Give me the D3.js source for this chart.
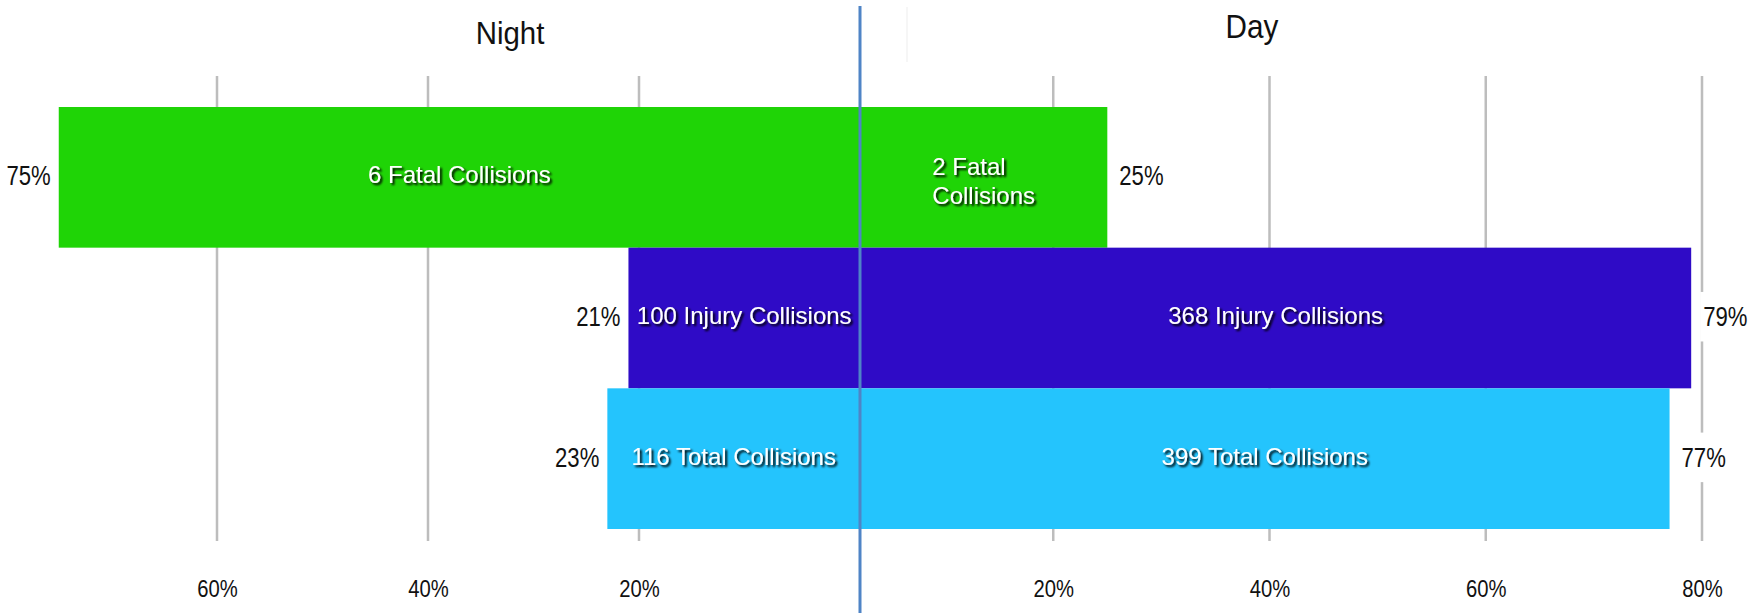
<!DOCTYPE html>
<html>
<head>
<meta charset="utf-8">
<script src="https://cdn.jsdelivr.net/npm/d3@7"></script>
<style>
  html, body { margin: 0; padding: 0; background: #fff; }
  svg { display: block; font-family: "Liberation Sans", Arial, sans-serif; }
</style>
</head>
<body>
<svg id="chart" width="1758" height="613"></svg>
<script>
// ---- data ----
const categories = ["Fatal", "Injury", "Total"];
const nightPct = [75, 21, 23];
const dayPct = [25, 79, 77];
const nightLabels = [["6 Fatal Collisions"], ["100 Injury Collisions"], ["116 Total Collisions"]];
const dayLabels = [["2 Fatal", "Collisions"], ["368 Injury Collisions"], ["399 Total Collisions"]];
const nightTicks = [60, 40, 20];
const dayTicks = [20, 40, 60, 80];
const titles = ["Night", "Day"];
const barColors = ["#1fd406", "#2f0bc6", "#24c4fd"];

// ---- layout ----
const W = 1758, H = 613;
const midX = 860;
const svg = d3.select("#chart");

const defs = svg.append("defs");
const f = defs.append("filter").attr("id", "shadow")
  .attr("x", "-10%").attr("y", "-30%").attr("width", "130%").attr("height", "170%");
f.append("feDropShadow").attr("dx", 2).attr("dy", 2)
  .attr("stdDeviation", 0.9).attr("flood-color", "#000").attr("flood-opacity", 1);

const y = d3.scaleBand().domain(categories).range([107, 529]).padding(0);
const xNight = d3.scaleLinear().domain([0, 80]).range([850, 6]);
const xDay = d3.scaleLinear().domain([0, 80]).range([837, 1702]);

const gridTop = 76, gridBottom = 541;

// gridlines
const grid = svg.append("g");
grid.selectAll("line.n").data(nightTicks).join("line")
  .attr("x1", d => xNight(d)).attr("x2", d => xNight(d))
  .attr("y1", gridTop).attr("y2", gridBottom)
  .attr("stroke", "#bdbdbd").attr("stroke-width", 2.5);
grid.selectAll("line.d").data(dayTicks).join("line")
  .attr("x1", d => xDay(d)).attr("x2", d => xDay(d))
  .attr("y1", gridTop).attr("y2", gridBottom)
  .attr("stroke", "#bdbdbd").attr("stroke-width", 2.5);

// axes (tick labels only)
function styleAxis(g) {
  g.select(".domain").remove();
  g.selectAll(".tick line").remove();
  g.selectAll(".tick text")
    .attr("font-size", 23).attr("fill", "#111")
    .attr("font-family", "Liberation Sans, Arial, sans-serif")
    .attr("y", 0).attr("dy", 0)
    .attr("transform", "scale(0.88,1)");
}
svg.append("g").attr("transform", `translate(0,597)`)
  .call(d3.axisBottom(xNight).tickValues(nightTicks).tickFormat(d => d + "%").tickSize(0))
  .call(styleAxis);
svg.append("g").attr("transform", `translate(0,597)`)
  .call(d3.axisBottom(xDay).tickValues(dayTicks).tickFormat(d => d + "%").tickSize(0))
  .call(styleAxis);

// bars
const rows = categories.map((c, i) => ({
  cat: c, night: nightPct[i], day: dayPct[i],
  nLab: nightLabels[i], dLab: dayLabels[i], color: barColors[i]
}));

svg.append("g").selectAll("rect.night").data(rows).join("rect")
  .attr("x", d => xNight(d.night))
  .attr("y", d => y(d.cat))
  .attr("width", d => midX - xNight(d.night))
  .attr("height", y.bandwidth())
  .attr("fill", d => d.color);
svg.append("g").selectAll("rect.day").data(rows).join("rect")
  .attr("x", midX)
  .attr("y", d => y(d.cat))
  .attr("width", d => xDay(d.day) - midX)
  .attr("height", y.bandwidth())
  .attr("fill", d => d.color);

// centre divider
svg.append("line")
  .attr("x1", midX).attr("x2", midX).attr("y1", 6).attr("y2", H)
  .attr("stroke", "#4f84c6").attr("stroke-width", 3);

// faint artefact line near top
svg.append("line")
  .attr("x1", 907).attr("x2", 907).attr("y1", 7).attr("y2", 62)
  .attr("stroke", "#f3f3f3").attr("stroke-width", 1.5);

// inner labels
function innerLabel(x0, x1, cy, lines, leftAlign) {
  const g = svg.append("g").attr("filter", "url(#shadow)");
  const t = g.append("text")
    .attr("fill", "#fff").attr("font-size", 24)
    .attr("text-anchor", leftAlign ? "start" : "middle");
  const lh = 29;
  const n = lines.length;
  lines.forEach((ln, k) => {
    t.append("tspan").attr("x", 0)
      .attr("y", (k - (n - 1) / 2) * lh + 8)
      .text(ln);
  });
  const cx = (x0 + x1) / 2;
  if (leftAlign) {
    const w = t.node().getBBox().width;
    g.attr("transform", `translate(${cx - w / 2},${cy + 6})`);
  } else {
    g.attr("transform", `translate(${cx},${cy})`);
  }
}
rows.forEach(d => {
  const cy = y(d.cat) + y.bandwidth() / 2 - 2;
  innerLabel(xNight(d.night), midX, cy, d.nLab, d.nLab.length > 1);
  innerLabel(midX, xDay(d.day), cy, d.dLab, d.dLab.length > 1);
});

// percentage labels
function pctLabel(x, cy, txt, anchor) {
  const g = svg.append("g").attr("transform", `translate(${x},${cy})`);
  const t = g.append("text")
    .attr("font-size", 27).attr("fill", "#111")
    .attr("text-anchor", anchor)
    .attr("y", 10)
    .attr("transform", "scale(0.82,1)")
    .text(txt);
  const bb = g.node().getBBox();
  g.insert("rect", "text")
    .attr("x", bb.x - 3).attr("y", bb.y - 10)
    .attr("width", bb.width + 6).attr("height", bb.height + 20)
    .attr("fill", "#fff");
}
rows.forEach(d => {
  const cy = y(d.cat) + y.bandwidth() / 2 - 2;
  pctLabel(xNight(d.night) - 8, cy, d.night + "%", "end");
  pctLabel(xDay(d.day) + 12, cy, d.day + "%", "start");
});

// titles
svg.append("text").attr("x", 0).attr("y", 0)
  .attr("transform", "translate(510,44) scale(0.92,1)")
  .attr("text-anchor", "middle").attr("font-size", 32).attr("fill", "#111")
  .text(titles[0]);
svg.append("text").attr("x", 0).attr("y", 0)
  .attr("transform", "translate(1252,38) scale(0.9,1)")
  .attr("text-anchor", "middle").attr("font-size", 33).attr("fill", "#111")
  .text(titles[1]);
</script>
</body>
</html>
